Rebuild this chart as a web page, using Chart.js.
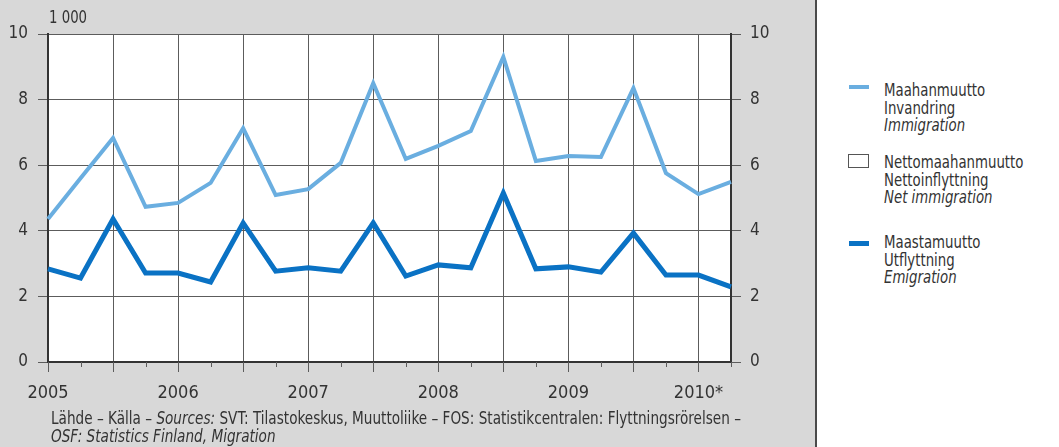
<!DOCTYPE html>
<html lang="fi">
<head>
<meta charset="UTF-8">
<title>Maahanmuutto ja maastamuutto</title>
<script src="https://cdn.jsdelivr.net/npm/chart.js"></script>
<style>
  body { margin: 0; background: #fff; font-family: "DejaVu Sans Condensed", sans-serif; color: #333; }
  #panel { position: absolute; left: 0; top: 0; width: 815px; height: 447px; background: #d8d8d8; border-right: 2px solid #4a4a4a; }
  #chart { position: absolute; left: 0; top: 0; }
  .nar { position: absolute; transform-origin: 0 0; white-space: nowrap; }
  #unit { left: 49px; top: 7px; font-size: 17px; transform: scaleX(0.87); }
  #source { left: 51px; top: 409px; font-size: 17px; line-height: 18px; transform: scaleX(0.89); }
  .leg { left: 884px; font-size: 17px; line-height: 17.5px; color: #333; transform: scaleX(0.87); }
  .sw { position: absolute; }
</style>
</head>
<body>
<div id="panel">
  <canvas id="chart" width="815" height="447"></canvas>
  <div id="unit" class="nar">1 000</div>
  <div id="source" class="nar">Lähde – Källa – <i>Sources:</i> SVT: Tilastokeskus, Muuttoliike – FOS: Statistikcentralen: Flyttningsrörelsen –<br><i>OSF: Statistics Finland, Migration</i></div>
</div>

<div class="sw" style="left:849px;top:85px;width:20px;height:4px;background:#6aaee0"></div>
<div class="leg nar" style="top:82px">Maahanmuutto<br>Invandring<br><i>Immigration</i></div>
<div class="sw" style="left:848px;top:154px;width:19px;height:12px;border:1px solid #555;background:#fff"></div>
<div class="leg nar" style="top:154px">Nettomaahanmuutto<br>Nettoinflyttning<br><i>Net immigration</i></div>
<div class="sw" style="left:849px;top:241px;width:20px;height:5px;background:#0a72c4"></div>
<div class="leg nar" style="top:234px">Maastamuutto<br>Utflyttning<br><i>Emigration</i></div>

<script>
const quarters = [
  '2005 Q1', '2005 Q2', '2005 Q3', '2005 Q4',
  '2006 Q1', '2006 Q2', '2006 Q3', '2006 Q4',
  '2007 Q1', '2007 Q2', '2007 Q3', '2007 Q4',
  '2008 Q1', '2008 Q2', '2008 Q3', '2008 Q4',
  '2009 Q1', '2009 Q2', '2009 Q3', '2009 Q4',
  '2010 Q1', '2010 Q2'
];
// thousands of persons
const immigration = [4.36, 5.6, 6.83, 4.73, 4.85, 5.46, 7.13, 5.09, 5.27, 6.07, 8.5, 6.19,
                     6.59, 7.04, 9.3, 6.13, 6.28, 6.25, 8.35, 5.76, 5.12, 5.49];
const emigration = [2.84, 2.56, 4.36, 2.71, 2.71, 2.44, 4.24, 2.77, 2.87, 2.77, 4.24, 2.62,
                    2.96, 2.87, 5.15, 2.84, 2.9, 2.74, 3.93, 2.65, 2.65, 2.29];
const yearLabels = ['2005', '2006', '2007', '2008', '2009', '2010*'];
const yTicks = [0, 2, 4, 6, 8, 10];

const FONT = '"DejaVu Sans Condensed", sans-serif';
const TXT = '#333';
const GRID = '#5c5c5c';

// white plot area
const plotBg = {
  id: 'plotBg',
  beforeDraw(chart) {
    const a = chart.chartArea, c = chart.ctx;
    c.save();
    c.fillStyle = '#fff';
    c.fillRect(a.left, a.top, a.right - a.left, a.bottom - a.top);
    c.restore();
  }
};

// long ticks at half years, short ticks at quarters
const xTicks = {
  id: 'xTicks',
  afterDraw(chart) {
    const s = chart.scales.x, c = chart.ctx, base = chart.chartArea.bottom;
    c.save();
    c.strokeStyle = GRID;
    c.lineWidth = 1;
    quarters.forEach((q, i) => {
      const x = Math.round(s.getPixelForValue(i)) + 0.5;
      c.beginPath();
      c.moveTo(x, base);
      c.lineTo(x, base + (i % 2 === 0 ? 10 : 5));
      c.stroke();
    });
    c.restore();
  }
};

new Chart(document.getElementById('chart'), {
  type: 'line',
  data: {
    labels: quarters,
    datasets: [
      { label: 'Maahanmuutto', data: immigration, borderColor: '#6aaee0', borderWidth: 4,
        pointRadius: 0, tension: 0, borderJoinStyle: 'miter', yAxisID: 'y' },
      { label: 'Maastamuutto', data: emigration, borderColor: '#0a72c4', borderWidth: 5,
        pointRadius: 0, tension: 0, borderJoinStyle: 'miter', yAxisID: 'y' }
    ]
  },
  options: {
    responsive: false,
    devicePixelRatio: 1,
    animation: false,
    layout: { padding: { top: 34, left: 0, right: 0, bottom: 0 } },
    plugins: { legend: { display: false }, tooltip: { enabled: false } },
    scales: {
      x: {
        type: 'category',
        offset: false,
        afterFit: s => { s.height = 85; },
        grid: {
          color: ctx => (ctx.index % 2 === 0 ? GRID : 'rgba(0,0,0,0)'),
          lineWidth: 1,
          drawTicks: false
        },
        border: { color: '#333', width: 2 },
        ticks: {
          autoSkip: false,
          maxRotation: 0,
          padding: 21,
          color: TXT,
          font: { family: FONT, size: 18 },
          callback: (v, i) => (i % 4 === 0 ? yearLabels[i / 4] : '')
        }
      },
      y: {
        position: 'left',
        min: 0, max: 10,
        afterFit: s => { s.width = 48; },
        afterBuildTicks: s => { s.ticks = yTicks.map(v => ({ value: v })); },
        grid: { color: GRID, lineWidth: 1, tickLength: 10, tickColor: GRID },
        border: { color: '#333', width: 2 },
        ticks: { color: TXT, padding: 10, font: { family: FONT, size: 17 } }
      },
      y2: {
        position: 'right',
        min: 0, max: 10,
        afterFit: s => { s.width = 84; },
        afterBuildTicks: s => { s.ticks = yTicks.map(v => ({ value: v })); },
        grid: { drawOnChartArea: false, tickLength: 10, tickColor: GRID },
        border: { color: '#333', width: 2 },
        ticks: { color: TXT, padding: 9, font: { family: FONT, size: 17 } }
      }
    }
  },
  plugins: [plotBg, xTicks]
});
</script>
</body>
</html>
